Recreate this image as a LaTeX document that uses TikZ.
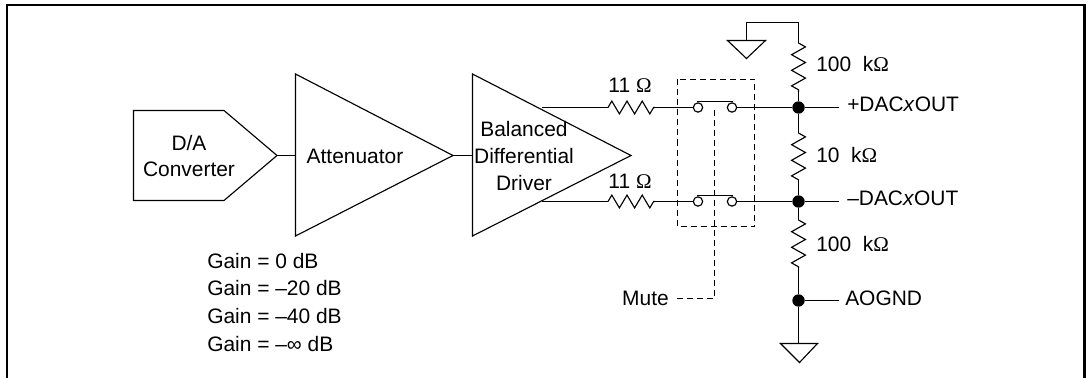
\documentclass[tikz,border=0pt]{standalone}
\usepackage{fontspec}
\setmainfont{Liberation Sans}
\newfontfamily\ohmfont{Liberation Serif}
\usetikzlibrary{positioning}
\usetikzlibrary{calc}
\usetikzlibrary{decorations.pathmorphing}
\newcommand{\ohm}{{\ohmfont Ω}}
\tikzset{
	wire/.style={line width=0.85pt, line join=miter},
	mutewire/.style={line width=0.85pt, dash pattern=on 4.5pt off 3pt},
	resistorh/.style={wire, decorate, decoration={zigzag, segment length=11.4pt, amplitude=4.8pt}},
	resistorv/.style={wire, decorate, decoration={zigzag, segment length=11.7pt, amplitude=5.2pt}},
	dot/.style={circle, fill, inner sep=0pt, minimum size=9.3pt},
	contact/.style={circle, draw, fill=white, line width=0.85pt, inner sep=0pt, minimum size=7pt},
	txt/.style={inner sep=0pt, font=\fontsize{15.7pt}{18pt}\selectfont, align=center}
}
\begin{document}
\begin{tikzpicture}[x=0.75pt, y=-0.75pt]
	\useasboundingbox (0,0) rectangle (1086,378);
	% frame, open at the bottom
	\draw[line width=1.7pt] (6.8,378) -- (6.8,5) -- (1084.5,5) -- (1084.5,378);

	% blocks
	\draw[wire] (133.5,110.5) coordinate (dacnw) -- (224,110.5) -- (277,155.5) coordinate (dactip) -- (224,200.5) -- (133.5,200.5) -- cycle;
	\draw[wire] (295.5,74) -- (453,155.5) coordinate (atttip) -- (295.5,236) -- cycle;
	\draw[wire] (472.5,74) -- (631,155.5) coordinate (drvtip) -- (472.5,236) -- cycle;
	\coordinate (attin) at (295.5,155.5);
	\coordinate (drvin) at (472.5,155.5);
	\draw[wire] (dactip) -- (attin);
	\draw[wire] (atttip) -- (drvin);

	\node[txt] (dac) at (189,156) {D/A\\[2pt]Converter};
	\node[txt] (att) at (355,156) {Attenuator};
	\node[txt] (drv) at (524,156) {Balanced\\[2pt]Differential\\[2pt]Driver};

	% gain settings
	\foreach \g/\t/\y in {a/0/261, b/--20/288, c/--40/316, d/--∞/344}
		{\node[txt, anchor=west] (gain\g) at (207,\y) {Gain = \t\ dB};}

	% the two output legs
	\foreach \n/\y in {p/107.5, m/201.5}
		{
		\coordinate (out\n) at (542,\y);
		\coordinate (ra\n) at (608,\y);
		\coordinate (rb\n) at (655,\y);
		\node[contact] (sa\n) at (698,\y) {};
		\node[contact] (sb\n) at (732,\y) {};
		\node[dot] (j\n) at (798.5,\y) {};
		\coordinate (end\n) at (839,\y);
		\draw[wire] (out\n) -- (ra\n);
		\draw[resistorh] (ra\n) -- (rb\n);
		\draw[wire] (rb\n) -- (sa\n);
		\draw[wire] (sb\n) -- (j\n) -- (end\n);
		\draw[wire] ($(sa\n)+(-1,-6)$) -- ($(sb\n)+(1,-6)$);
		}
	\node[txt, anchor=west] (lblp) at (847,104) {+DAC\textit{x}OUT};
	\node[txt, anchor=west] (lblm) at (847,198) {--DAC\textit{x}OUT};
	\node[txt] (rtop) at (630,85) {11 \ohm};
	\node[txt] (rbot) at (630,181) {11 \ohm};

	% mute box
	\draw[mutewire] (677.5,79.5) rectangle (754.5,226.5);
	\node[txt, anchor=east] (mute) at (669,298) {Mute};
	\coordinate (mutein) at (677,298.5);
	\coordinate (mutecorner) at (714.5,298.5);
	\coordinate (mutetop) at (714.5,108);
	\draw[mutewire] (mutein) -- (mutecorner) -- (mutetop);

	% resistor ladder
	\node[dot] (jg) at (798.5,300.5) {};
	\coordinate (gndtop) at (746.5,40.5);
	\coordinate (gndbot) at (798.5,343.5);
	\coordinate (r1a) at (798.5,43);
	\coordinate (r1b) at (798.5,92);
	\coordinate (r2a) at (798.5,133);
	\coordinate (r2b) at (798.5,180);
	\coordinate (r3a) at (798.5,220);
	\coordinate (r3b) at (798.5,268);
	\coordinate (endg) at (839,300.5);

	\draw[wire] (gndtop) -- (746.5,22.5) -- (798.5,22.5) -- (r1a);
	\draw[resistorv] (r1a) -- (r1b);
	\draw[wire] (r1b) -- (jp) -- (r2a);
	\draw[resistorv] (r2a) -- (r2b);
	\draw[wire] (r2b) -- (jm) -- (r3a);
	\draw[resistorv] (r3a) -- (r3b);
	\draw[wire] (r3b) -- (jg) -- (gndbot);
	\draw[wire] (jg) -- (endg);

	% grounds
	\draw[wire] ($(gndtop)+(-19,0)$) -- ($(gndtop)+(19,0)$) -- ($(gndtop)+(0,18)$) -- cycle;
	\draw[wire] ($(gndbot)+(-18,0)$) -- ($(gndbot)+(19,0)$) -- ($(gndbot)+(1,19)$) -- cycle;

	\node[txt, anchor=west] (r1) at (816,64) {100\ \ k\ohm};
	\node[txt, anchor=west] (r2) at (816,155) {10\ \ k\ohm};
	\node[txt, anchor=west] (r3) at (816,244) {100\ \ k\ohm};
	\node[txt, anchor=west] (aognd) at (845,298) {AOGND};
\end{tikzpicture}
\end{document}
